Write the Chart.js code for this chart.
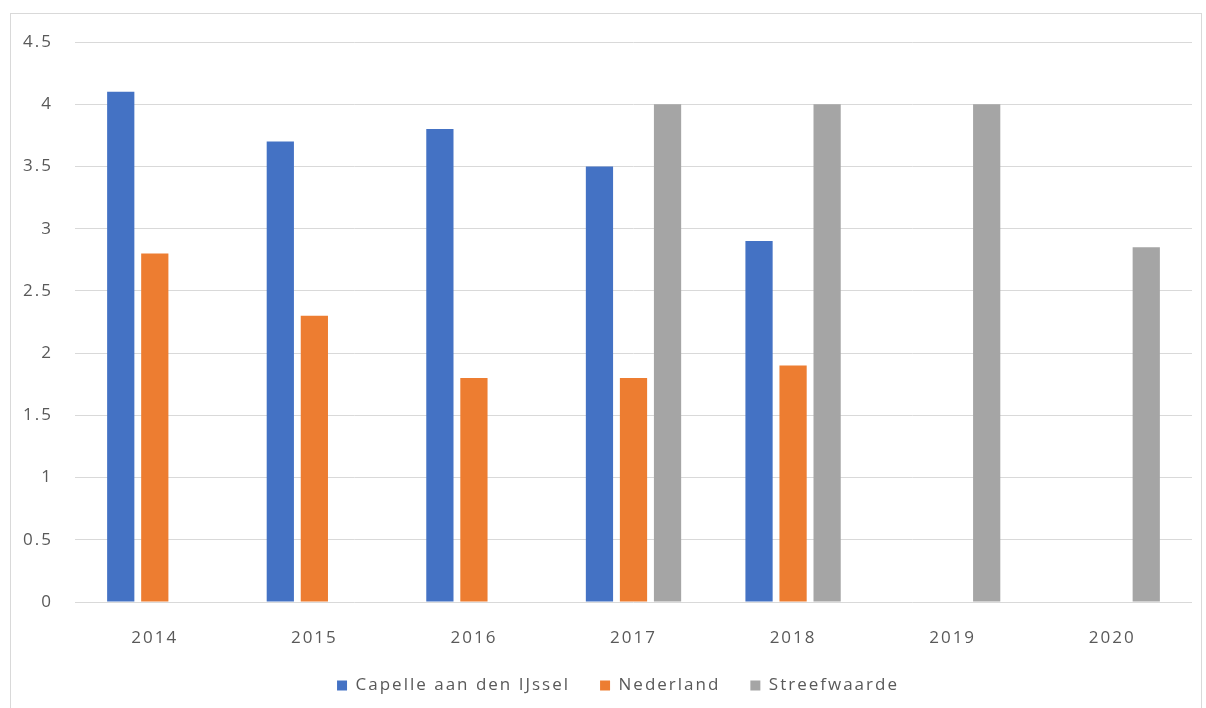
<!DOCTYPE html>
<html>
<head>
<meta charset="utf-8">
<script src="https://cdn.jsdelivr.net/npm/chart.js@4"></script>
<style>
  html, body { margin: 0; padding: 0; background: #fff; }
  body { width: 1206px; height: 708px; position: relative; overflow: hidden; }
  #frame { position: absolute; left: 10px; top: 13px; width: 1192px; height: 720px;
           border: 1px solid #d9d9d9; box-sizing: border-box; }
  #wrap { position: absolute; left: 0; top: 0; width: 1206px; height: 708px; }
</style>
</head>
<body>
<div id="frame"></div>
<div id="wrap"><canvas id="c" width="1206" height="708"></canvas></div>
<script>
const categories = ['2014', '2015', '2016', '2017', '2018', '2019', '2020'];
const capelle = [4.1, 3.7, 3.8, 3.5, 2.9, null, null];
const nederland = [2.8, 2.3, 1.8, 1.8, 1.9, null, null];
const streefwaarde = [null, null, null, 4, 4, 4, 2.85];
const yTicks = [0, 0.5, 1, 1.5, 2, 2.5, 3, 3.5, 4, 4.5];
const seriesNames = ['Capelle aan den IJssel', 'Nederland', 'Streefwaarde'];

const FONT = { family: "'Open Sans', 'Liberation Sans', sans-serif", size: 17 };
const TXT = '#595959';

const spacing = {
  id: 'spacing',
  beforeLayout(chart) { chart.ctx.letterSpacing = '2px'; },
  afterLayout(chart) {
    if (chart.legend) { chart.legend.left += 22; chart.legend.right += 22; }
  },
  beforeDraw(chart) { chart.ctx.letterSpacing = '2px'; }
};

new Chart(document.getElementById('c'), {
  type: 'bar',
  data: {
    labels: categories,
    datasets: [
      { label: seriesNames[0], data: capelle, backgroundColor: '#4472C4' },
      { label: seriesNames[1], data: nederland, backgroundColor: '#ED7D31' },
      { label: seriesNames[2], data: streefwaarde, backgroundColor: '#A5A5A5' }
    ]
  },
  plugins: [spacing],
  options: {
    responsive: false,
    animation: false,
    devicePixelRatio: 1,
    categoryPercentage: 0.64,
    barPercentage: 0.8,
    layout: { padding: { left: 0, right: 14, top: 42, bottom: 4 } },
    plugins: {
      tooltip: { enabled: false },
      legend: {
        position: 'bottom',
        labels: {
          boxWidth: 10, boxHeight: 10, padding: 30,
          color: TXT, font: FONT
        }
      }
    },
    scales: {
      x: {
        grid: { display: false, drawTicks: false },
        border: { display: false },
        ticks: { color: TXT, font: FONT, padding: 26, maxRotation: 0 },
        afterFit: s => { s.height = 45; }
      },
      y: {
        min: 0, max: 4.5,
        afterBuildTicks: s => { s.ticks = yTicks.map(v => ({ value: v })); },
        grid: { color: '#d9d9d9', lineWidth: 1, drawTicks: false },
        border: { display: false },
        ticks: { color: TXT, font: FONT, padding: 22, callback: v => String(v) },
        afterFit: s => { s.width = 75; }
      }
    }
  }
});
</script>
</body>
</html>
